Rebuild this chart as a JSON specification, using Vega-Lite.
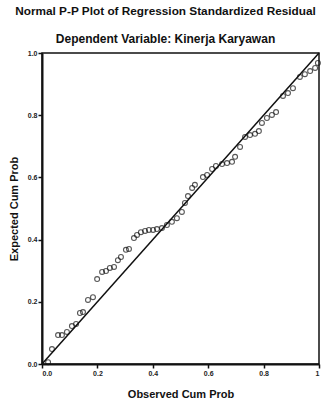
{
  "$schema": "https://vega.github.io/schema/vega-lite/v6.json",
  "autosize": {"type": "none"},
  "padding": {"left": 42, "top": 53, "right": 2, "bottom": 37},
  "width": 277,
  "height": 311,
  "background": "white",
  "title": {
    "text": "Normal P-P Plot of Regression Standardized Residual",
    "subtitle": "Dependent Variable: Kinerja Karyawan",
    "font": "Liberation Sans",
    "fontSize": 11.8,
    "fontWeight": "bold",
    "color": "#111",
    "subtitleFont": "Liberation Sans",
    "subtitleFontSize": 12,
    "subtitleFontWeight": "bold",
    "subtitleColor": "#111",
    "subtitlePadding": 16,
    "anchor": "middle",
    "dx": -15,
    "offset": 4
  },
  "config": {
    "view": {"stroke": "#111", "strokeWidth": 1.5},
    "axis": {
      "domainColor": "#111",
      "domainWidth": 2,
      "tickColor": "#111",
      "tickWidth": 1.5,
      "tickSize": 4,
      "grid": false,
      "labelFont": "Liberation Sans",
      "labelFontSize": 7,
      "labelFontWeight": "bold",
      "labelColor": "#222",
      "titleFont": "Liberation Sans",
      "titleFontSize": 11,
      "titleFontWeight": "bold",
      "titleColor": "#111"
    }
  },
  "data": {
    "values": [
      {"obs": 0.022, "exp": 0.006},
      {"obs": 0.036, "exp": 0.048},
      {"obs": 0.058, "exp": 0.093},
      {"obs": 0.072, "exp": 0.093},
      {"obs": 0.090, "exp": 0.103},
      {"obs": 0.108, "exp": 0.122},
      {"obs": 0.123, "exp": 0.129},
      {"obs": 0.137, "exp": 0.164},
      {"obs": 0.148, "exp": 0.167},
      {"obs": 0.166, "exp": 0.206},
      {"obs": 0.184, "exp": 0.215},
      {"obs": 0.199, "exp": 0.273},
      {"obs": 0.217, "exp": 0.296},
      {"obs": 0.231, "exp": 0.299},
      {"obs": 0.245, "exp": 0.309},
      {"obs": 0.260, "exp": 0.312},
      {"obs": 0.274, "exp": 0.334},
      {"obs": 0.285, "exp": 0.344},
      {"obs": 0.303, "exp": 0.367},
      {"obs": 0.314, "exp": 0.370},
      {"obs": 0.332, "exp": 0.405},
      {"obs": 0.343, "exp": 0.415},
      {"obs": 0.357, "exp": 0.424},
      {"obs": 0.372, "exp": 0.428},
      {"obs": 0.386, "exp": 0.431},
      {"obs": 0.401, "exp": 0.431},
      {"obs": 0.415, "exp": 0.434},
      {"obs": 0.433, "exp": 0.437},
      {"obs": 0.451, "exp": 0.447},
      {"obs": 0.469, "exp": 0.457},
      {"obs": 0.487, "exp": 0.469},
      {"obs": 0.505, "exp": 0.489},
      {"obs": 0.516, "exp": 0.518},
      {"obs": 0.527, "exp": 0.540},
      {"obs": 0.542, "exp": 0.566},
      {"obs": 0.552, "exp": 0.576},
      {"obs": 0.581, "exp": 0.601},
      {"obs": 0.596, "exp": 0.608},
      {"obs": 0.614, "exp": 0.627},
      {"obs": 0.628, "exp": 0.637},
      {"obs": 0.650, "exp": 0.643},
      {"obs": 0.668, "exp": 0.646},
      {"obs": 0.686, "exp": 0.650},
      {"obs": 0.697, "exp": 0.666},
      {"obs": 0.715, "exp": 0.698},
      {"obs": 0.733, "exp": 0.730},
      {"obs": 0.751, "exp": 0.736},
      {"obs": 0.769, "exp": 0.740},
      {"obs": 0.783, "exp": 0.749},
      {"obs": 0.794, "exp": 0.775},
      {"obs": 0.812, "exp": 0.791},
      {"obs": 0.830, "exp": 0.801},
      {"obs": 0.845, "exp": 0.810},
      {"obs": 0.870, "exp": 0.862},
      {"obs": 0.888, "exp": 0.871},
      {"obs": 0.906, "exp": 0.887},
      {"obs": 0.931, "exp": 0.923},
      {"obs": 0.949, "exp": 0.932},
      {"obs": 0.968, "exp": 0.942},
      {"obs": 0.986, "exp": 0.952},
      {"obs": 0.996, "exp": 0.968}
    ]
  },
  "layer": [
    {
      "data": {"values": [{"obs": 0, "exp": 0}, {"obs": 1, "exp": 1}]},
      "mark": {"type": "line", "color": "#111", "strokeWidth": 1.5},
      "encoding": {
        "x": {"field": "obs", "type": "quantitative"},
        "y": {"field": "exp", "type": "quantitative"}
      }
    },
    {
      "mark": {"type": "point", "shape": "circle", "filled": false, "color": "#111", "size": 24, "strokeWidth": 1.1},
      "encoding": {
        "x": {
          "field": "obs",
          "type": "quantitative",
          "title": "Observed Cum Prob",
          "scale": {"domain": [0, 1], "nice": false},
          "axis": {"values": [0, 0.2, 0.4, 0.6, 0.8, 1], "labelExpr": "datum.value == 1 ? '1' : format(datum.value, '.1f')", "titlePadding": 12, "labelPadding": 1}
        },
        "y": {
          "field": "exp",
          "type": "quantitative",
          "title": "Expected Cum Prob",
          "scale": {"domain": [0, 1], "nice": false},
          "axis": {"values": [0, 0.2, 0.4, 0.6, 0.8, 1], "format": ".1f", "titlePadding": 8, "labelPadding": 1}
        }
      }
    }
  ]
}
